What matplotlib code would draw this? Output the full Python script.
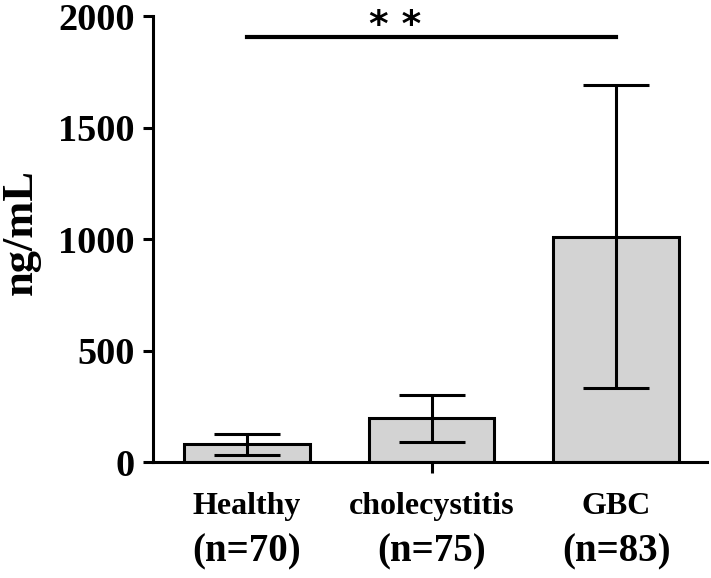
import matplotlib
matplotlib.use("Agg")
import matplotlib.pyplot as plt
import matplotlib.transforms as mtransforms

# data (mean +- SD, ng/mL)
GROUPS = ["Healthy", "cholecystitis", "GBC"]
N_LABELS = ["(n=70)", "(n=75)", "(n=83)"]
MEANS = [81, 197, 1012]
SDS = [48, 104, 680]
Y_TICKS = [0, 500, 1000, 1500, 2000]
SIG_PAIR = (0, 2)
SIG_LEVEL = 1905
SIG_TEXT = "* *"

plt.rcParams["font.family"] = ["Liberation Serif", "DejaVu Serif"]
plt.rcParams["font.weight"] = "bold"

fig = plt.figure(figsize=(7.11, 5.78), dpi=100)
ax = fig.add_axes([0.215, 0.2, 0.779, 0.772])

x = list(range(len(GROUPS)))
ax.bar(x, MEANS, width=0.68, color="#d3d3d3", edgecolor="black", linewidth=2.2, zorder=2)
ax.errorbar(x, MEANS, yerr=SDS, fmt="none", ecolor="black", elinewidth=2.2,
            capsize=24, capthick=2.2, zorder=3)

ax.set_xlim(-0.51, 2.49)
ax.set_ylim(0, 2000)
ax.set_yticks(Y_TICKS)
ax.set_yticklabels([str(t) for t in Y_TICKS], fontsize=27.5, fontweight="bold")
ax.tick_params(axis="y", width=2.2, length=7, pad=6)

# category labels drawn as text, only a single x tick is visible
ax.set_xticks([])
ax.set_xticks([1], minor=True)
ax.tick_params(axis="x", which="minor", width=2.2, length=8, labelbottom=False)
trans = mtransforms.blended_transform_factory(ax.transData, ax.transAxes)
for xi, name, n in zip(x, GROUPS, N_LABELS):
    ax.text(xi, -0.098, name, transform=trans, ha="center", va="center",
            fontsize=23, fontweight="bold")
    ax.text(xi, -0.2, n, transform=trans, ha="center", va="center",
            fontsize=28, fontweight="bold")

for side in ["top", "right"]:
    ax.spines[side].set_visible(False)
for side in ["left", "bottom"]:
    ax.spines[side].set_linewidth(2.2)

fig.text(21 / 711, 1 - 232 / 578, "ng/mL", rotation=90, ha="center", va="center",
         fontsize=32, fontweight="bold")

# significance bar
ax.plot(SIG_PAIR, [SIG_LEVEL, SIG_LEVEL], color="black", linewidth=3, clip_on=False)
ax.text(0.8, SIG_LEVEL + 8, SIG_TEXT, ha="center", va="baseline", fontsize=27,
        family="DejaVu Sans", fontweight="bold", clip_on=False)

fig.savefig("out.png", dpi=100)
